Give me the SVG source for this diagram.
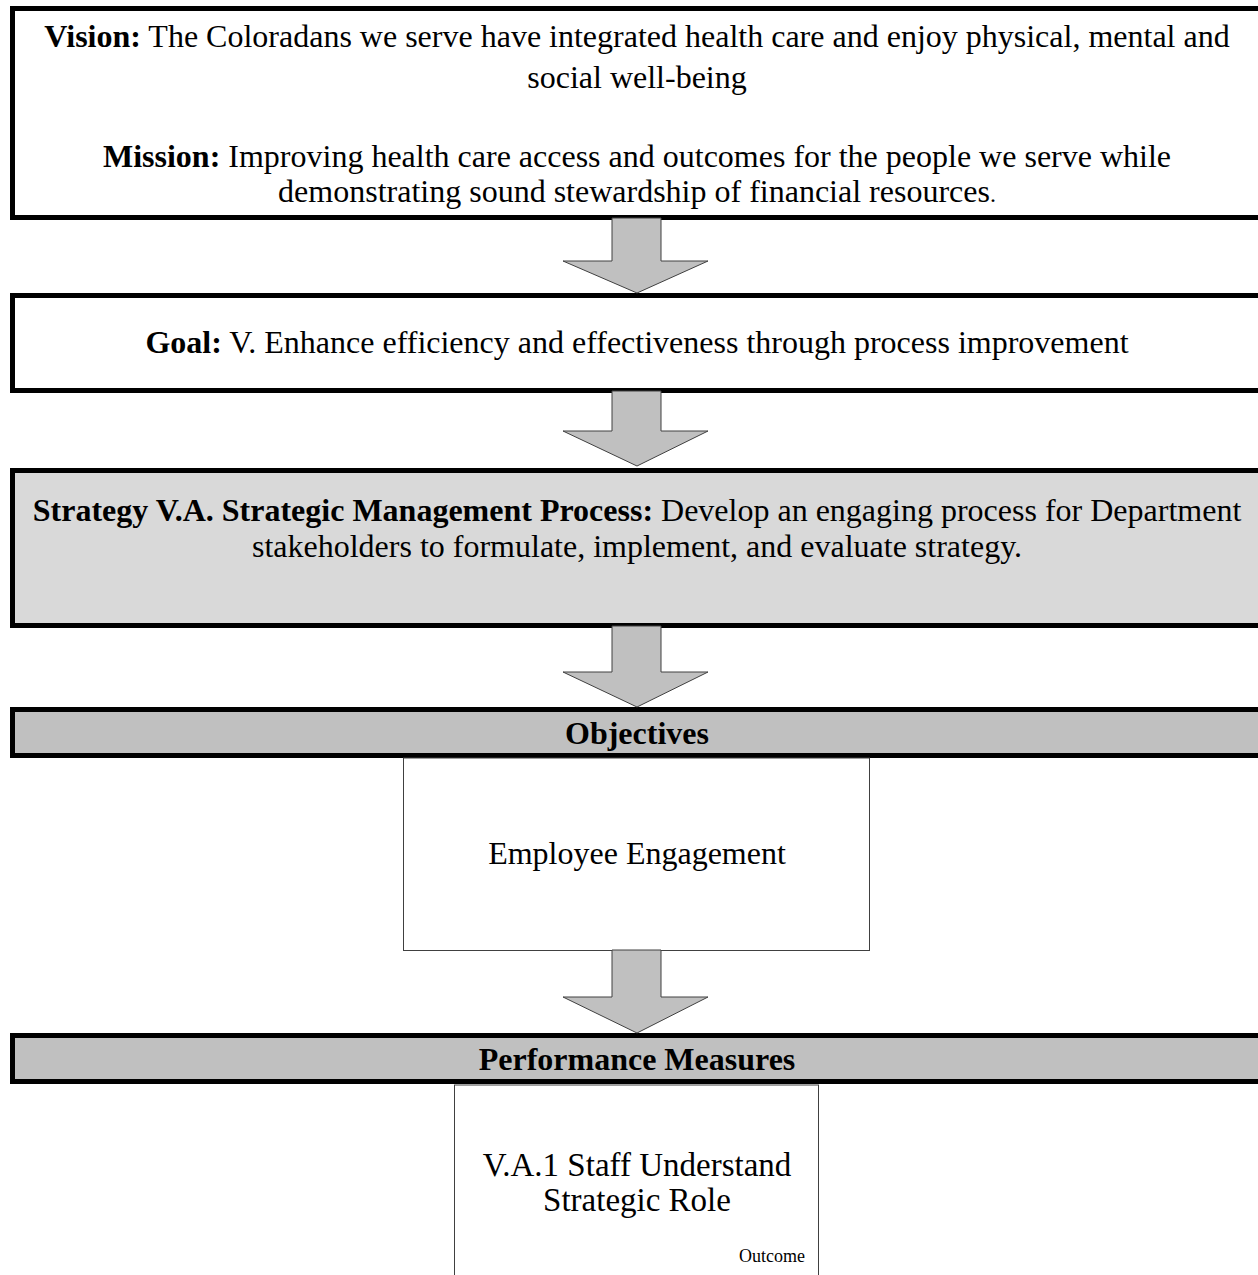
<svg xmlns="http://www.w3.org/2000/svg" width="1258" height="1275" viewBox="0 0 1258 1275">
<style>
text{font-family:"Liberation Serif","Times New Roman",serif;fill:#000}
.t{font-size:32px}
.c{text-anchor:middle}
.b{font-weight:bold}
.thick{stroke:#000;stroke-width:5}
.thin{fill:#fff;stroke:#404040;stroke-width:1}
.arrow{fill:#c0c0c0;stroke:#404040;stroke-width:1}
</style>
<rect width="1258" height="1275" fill="#fff"/>
<g id="vision">
<rect class="thick" x="12.5" y="8.5" width="1252" height="209" fill="#fff"/>
<text class="t c" x="637" y="47"><tspan class="b">Vision:</tspan> The Coloradans we serve have integrated health care and enjoy physical, mental and</text>
<text class="t c" x="637" y="88">social well-being</text>
<text class="t c" x="637" y="167"><tspan class="b">Mission:</tspan> Improving health care access and outcomes for the people we serve while</text>
<text class="t c" x="637" y="202">demonstrating sound stewardship of financial resources<tspan font-size="24">.</tspan></text>
</g>
<g id="goal">
<rect class="thick" x="12.5" y="295.5" width="1252" height="95" fill="#fff"/>
<text class="t c" x="637" y="353"><tspan class="b">Goal:</tspan> V. Enhance efficiency and effectiveness through process improvement</text>
</g>
<g id="strategy">
<rect class="thick" x="12.5" y="470.5" width="1252" height="155" fill="#d9d9d9"/>
<text class="t c" x="637" y="521"><tspan class="b">Strategy V.A. Strategic Management Process:</tspan> Develop an engaging process for Department</text>
<text class="t c" x="637" y="557">stakeholders to formulate, implement, and evaluate strategy.</text>
</g>
<g id="objectives">
<rect class="thick" x="12.5" y="709.5" width="1252" height="46" fill="#c0c0c0"/>
<text class="t c b" x="637" y="744">Objectives</text>
</g>
<g id="employee-engagement">
<rect class="thin" x="403.5" y="758" width="466" height="192.5"/>
<text class="t c" x="637" y="864">Employee Engagement</text>
</g>
<g id="performance-measures">
<rect class="thick" x="12.5" y="1035.5" width="1252" height="46" fill="#c0c0c0"/>
<text class="t c b" x="637" y="1070">Performance Measures</text>
</g>
<g id="measure-va1">
<rect class="thin" x="454.5" y="1085" width="364" height="200"/>
<text x="637" y="1176" font-size="33" text-anchor="middle">V.A.1 Staff Understand</text>
<text x="637" y="1211" font-size="33" text-anchor="middle">Strategic Role</text>
<text x="805" y="1262" font-size="18" text-anchor="end">Outcome</text>
</g>
<g id="connectors">
<polygon class="arrow" points="612,218 661,218 661,261 708,261 637,293 563,261 612,261"/>
<polygon class="arrow" points="612,391 661,391 661,431 708,431 637,466 563,431 612,431"/>
<polygon class="arrow" points="612,626 661,626 661,672 708,672 637,707 563,672 612,672"/>
<polygon class="arrow" points="612,950 661,950 661,997 708,997 637,1033 563,997 612,997"/>
</g>
</svg>
